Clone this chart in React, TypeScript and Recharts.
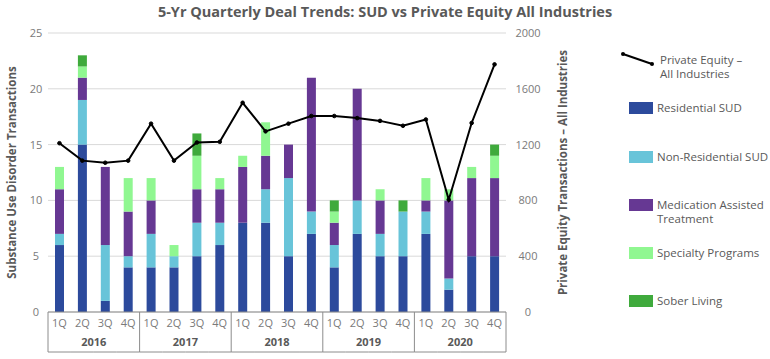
import { ComposedChart, Bar, Line, XAxis, YAxis, CartesianGrid } from "recharts";

const years = ["2016", "2017", "2018", "2019", "2020"];
const quarters = ["1Q", "2Q", "3Q", "4Q"];

// SUD transactions per quarter (stacked)
const residential = [6, 15, 1, 4, 4, 4, 5, 6, 8, 8, 5, 7, 4, 7, 5, 5, 7, 2, 5, 5];
const nonResidential = [1, 4, 5, 1, 3, 1, 3, 2, 0, 3, 7, 2, 2, 3, 2, 4, 2, 1, 0, 0];
const medicationAssisted = [4, 2, 7, 4, 3, 0, 3, 3, 5, 3, 3, 12, 2, 10, 3, 0, 1, 7, 7, 7];
const specialty = [2, 1, 0, 3, 2, 1, 3, 1, 1, 3, 0, 0, 1, 0, 1, 0, 2, 1, 1, 2];
const soberLiving = [0, 1, 0, 0, 0, 0, 2, 0, 0, 0, 0, 0, 1, 0, 0, 1, 0, 0, 0, 1];

// private equity deals, all industries (right axis)
const privateEquity = [
    1210, 1085, 1070, 1085, 1350, 1085, 1215, 1220, 1500, 1295, 1350, 1405, 1405, 1390, 1370, 1335, 1380, 805, 1355,
    1775,
];

const leftTicks = [0, 5, 10, 15, 20, 25];
const rightTicks = [0, 400, 800, 1200, 1600, 2000];

const data = years.flatMap((year, yi) =>
    quarters.map((q, qi) => {
        const i = yi * 4 + qi;
        return {
            key: `${year}-${q}`,
            quarter: q,
            year,
            residential: residential[i],
            nonResidential: nonResidential[i],
            medicationAssisted: medicationAssisted[i],
            specialty: specialty[i],
            soberLiving: soberLiving[i],
            privateEquity: privateEquity[i],
        };
    })
);

const series = [
    { key: "residential", label: "Residential SUD", color: "#2C4A9C" },
    { key: "nonResidential", label: "Non-Residential SUD", color: "#68C4D9" },
    { key: "medicationAssisted", label: "Medication Assisted Treatment", color: "#663893" },
    { key: "specialty", label: "Specialty Programs", color: "#90F791" },
    { key: "soberLiving", label: "Sober Living", color: "#3FAA3C" },
];

const W = 770;
const H = 359;
const MARGIN = { top: 33, right: 204, bottom: 6, left: 0 };
const LEFT_W = 48;
const RIGHT_W = 60;
const PLOT_W = W - MARGIN.left - MARGIN.right - LEFT_W - RIGHT_W;
const BAND = PLOT_W / data.length;

const TITLE_COLOR = "#595959";
const TICK_COLOR = "#7a7a7a";
const BOX_COLOR = "#8c8c8c";

const QuarterTick = (props: any) => {
    const { x, y, index } = props;
    const d = data[index];
    if (!d) return null;
    const left = x - BAND / 2;
    const right = x + BAND / 2;
    return (
        <g>
            <text x={x} y={y + 10} textAnchor="middle" dominantBaseline="central" fontSize={11} fill={TICK_COLOR}>
                {d.quarter}
            </text>
            <line x1={left} x2={right} y1={y + 40} y2={y + 40} stroke={BOX_COLOR} />
            {index % 4 === 0 && (
                <>
                    <line x1={left} x2={left} y1={y} y2={y + 40} stroke={BOX_COLOR} />
                    <text
                        x={left + BAND * 2}
                        y={y + 29}
                        textAnchor="middle"
                        dominantBaseline="central"
                        fontSize={11}
                        fontWeight={700}
                        fill={TITLE_COLOR}
                    >
                        {d.year}
                    </text>
                </>
            )}
            {index === data.length - 1 && <line x1={right} x2={right} y1={y} y2={y + 40} stroke={BOX_COLOR} />}
        </g>
    );
};

const AxisTitle = (props: any) => {
    const { viewBox, tx, text } = props;
    const cy = viewBox.y + viewBox.height / 2;
    return (
        <text
            x={tx}
            y={cy}
            transform={`rotate(-90 ${tx} ${cy})`}
            textAnchor="middle"
            dominantBaseline="central"
            fontSize={11.5}
            fontWeight={700}
            fill={TITLE_COLOR}
        >
            {text}
        </text>
    );
};

const legendText: React.CSSProperties = {
    position: "absolute",
    fontSize: 11.5,
    lineHeight: "14px",
    color: TITLE_COLOR,
};

const swatchTops = [102, 151, 199, 247, 295];

const App = () => {
    return (
        <div
            style={{
                position: "absolute",
                left: 0,
                top: 0,
                width: W,
                height: H,
                background: "#fff",
                fontFamily: "'Open Sans', sans-serif",
            }}
        >
            <div
                style={{
                    position: "absolute",
                    left: 0,
                    top: 2,
                    width: W,
                    textAlign: "center",
                    fontSize: 14.5,
                    fontWeight: 700,
                    color: TITLE_COLOR,
                }}
            >
                5-Yr Quarterly Deal Trends: SUD vs Private Equity All Industries
            </div>

            <ComposedChart width={W} height={H} data={data} margin={MARGIN} barSize={9}>
                <CartesianGrid stroke="#d9d9d9" vertical={false} yAxisId="left" />
                <XAxis
                    dataKey="key"
                    height={41}
                    interval={0}
                    tickLine={false}
                    tickSize={0}
                    tickMargin={0}
                    axisLine={{ stroke: BOX_COLOR }}
                    tick={<QuarterTick />}
                />
                <YAxis
                    yAxisId="left"
                    width={LEFT_W}
                    domain={[0, 25]}
                    ticks={leftTicks}
                    axisLine={false}
                    tickLine={false}
                    tickSize={6}
                    tickMargin={6}
                    tick={{ fontSize: 11, fill: TICK_COLOR, textAnchor: "middle" }}
                    label={<AxisTitle tx={11} text="Substance Use Disorder Transactions" />}
                />
                <YAxis
                    yAxisId="right"
                    orientation="right"
                    width={RIGHT_W}
                    domain={[0, 2000]}
                    ticks={rightTicks}
                    axisLine={false}
                    tickLine={false}
                    tickSize={6}
                    tickMargin={16}
                    tick={{ fontSize: 11, fill: TICK_COLOR, textAnchor: "middle" }}
                    label={<AxisTitle tx={562} text="Private Equity Transactions – All Industries" />}
                />
                {series.map((s) => (
                    <Bar
                        key={s.key}
                        yAxisId="left"
                        dataKey={s.key}
                        name={s.label}
                        stackId="sud"
                        fill={s.color}
                        isAnimationActive={false}
                    />
                ))}
                <Line
                    yAxisId="right"
                    type="linear"
                    dataKey="privateEquity"
                    name="Private Equity – All Industries"
                    stroke="#000"
                    strokeWidth={2}
                    dot={{ r: 1.8, fill: "#000", stroke: "#000", strokeWidth: 1 }}
                    isAnimationActive={false}
                />
            </ComposedChart>

            {/* legend */}
            <svg style={{ position: "absolute", left: 620, top: 51 }} width={36} height={18}>
                <line x1={3} y1={3} x2={32} y2={13} stroke="#000" strokeWidth={2} />
                <circle cx={3} cy={3} r={2} fill="#000" />
                <circle cx={32} cy={13} r={2} fill="#000" />
            </svg>
            <div style={{ ...legendText, left: 660, top: 53 }}>
                Private Equity –<br />
                All Industries
            </div>
            {series.map((s, i) => (
                <div key={s.key}>
                    <div
                        style={{
                            position: "absolute",
                            left: 629,
                            top: swatchTops[i],
                            width: 24,
                            height: 12,
                            background: s.color,
                        }}
                    />
                    <div style={{ ...legendText, left: 657, top: swatchTops[i] - 1, width: 113 }}>{s.label}</div>
                </div>
            ))}
        </div>
    );
};

export default App;
